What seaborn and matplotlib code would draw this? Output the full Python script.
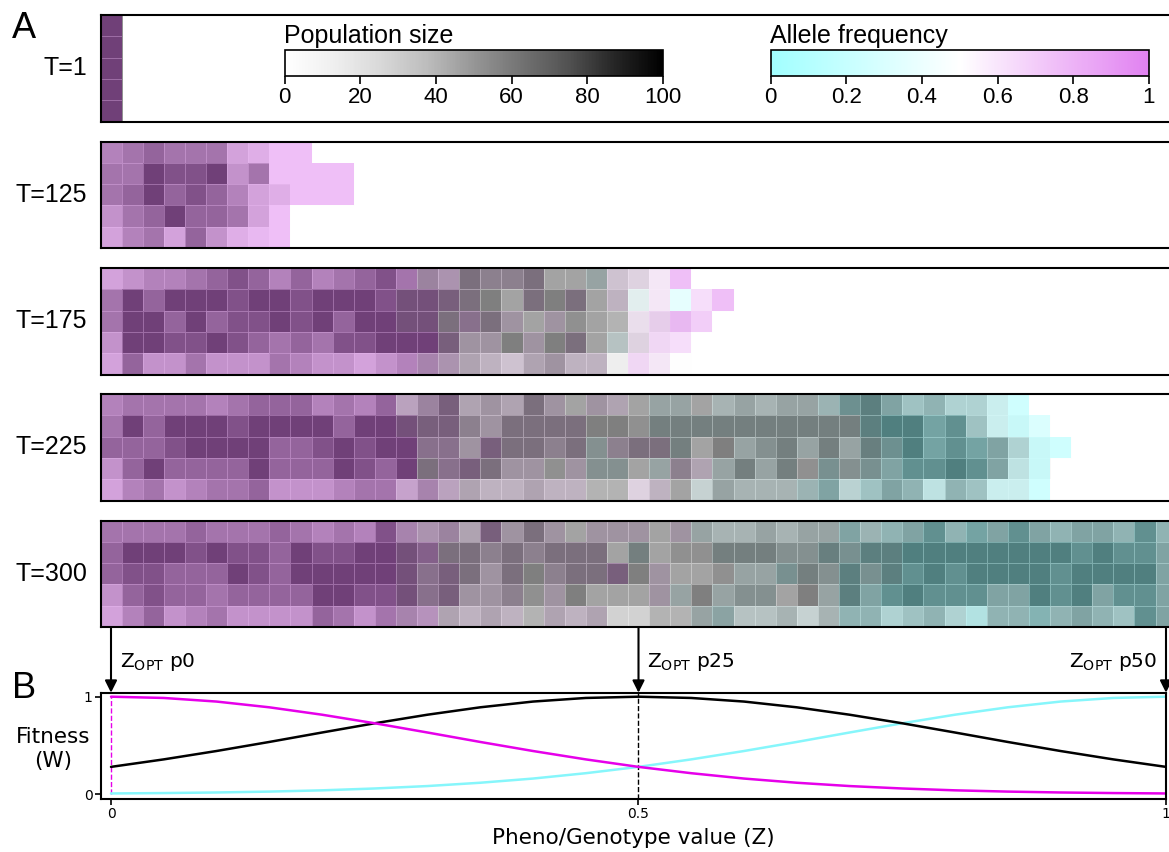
import numpy as np
import matplotlib
matplotlib.use("Agg")
import matplotlib.pyplot as plt
import seaborn as sns
from matplotlib.colors import LinearSegmentedColormap, Normalize
from matplotlib.cm import ScalarMappable

sns.set_theme(style="ticks")
plt.rcParams["font.family"] = ["Liberation Sans", "DejaVu Sans"]
plt.rcParams["mathtext.fontset"] = "dejavusans"

N_BINS = 51          # genotype classes 0..50 along Z
N_ROWS = 5
TIME_LABELS = ["T=1", "T=125", "T=175", "T=225", "T=300"]

# Population size per cell as a level 0-9 (count = 1 + 11 * level).
# Allele frequency per cell as a level 0-8 (frequency = level / 8).
# Each string starts at Z class 0; classes past its end hold no individuals.
POP_T1 = ["9", "9", "9", "9", "9"]
FREQ_T1 = ["8", "8", "8", "8", "8"]

POP_T125 = [
    "56766 63200",
    "66988 94600 00",
    "67978 75320 00",
    "46797 7630",
    "35637 4210",
]
FREQ_T125 = [
    "88888 88888",
    "88888 88888 88",
    "88888 88888 88",
    "88888 8888",
    "88888 8888",
]

POP_T175 = [
    "34556 78757 56786 76988 97774 310",
    "69799 98998 99989 99997 99975 21000",
    "69979 78898 97999 99897 77876 2210",
    "49988 98767 68899 99779 79975 310",
    "37446 44465 44345 66654 67552 110",
]
FREQ_T175 = [
    "88888 88888 88888 66555 54435 558",
    "88888 88888 88887 76544 54545 35268",
    "88888 88888 88887 75655 45444 5687",
    "88888 88888 88888 86554 54543 566",
    "88888 88888 88888 76555 55554 654",
]

POP_T225 = [
    "56666 56777 56575 79676 97776 77776 76776 89756 4420",
    "69799 98999 97999 99879 99999 89999 99999 99997 85210",
    "77789 99977 89899 88799 98988 99979 78979 79897 87741 0",
    "47977 77977 79879 98997 78788 77867 97988 88788 98731",
    "35645 66744 45664 65655 65566 35747 66667 45763 65220",
]
FREQ_T225 = [
    "88888 88888 88886 66555 55455 43343 33332 11111 1110",
    "88888 88888 88887 66555 55544 43333 33333 31000 01101",
    "88888 88888 88888 66565 55535 55344 33333 32100 00110 0",
    "88888 88888 88888 56655 54533 43553 33342 32100 00110",
    "88888 88888 88887 76555 55544 55433 33321 21111 11110",
]

POP_T300 = [
    "66667 66676 56586 67697 97777 77776 67677 76678 67787 67768 6",
    "79998 98879 88999 89989 89997 97889 99889 89999 99999 98988 7",
    "78877 79879 99999 89979 98999 97778 77898 98989 89999 89999 7",
    "47877 67777 99889 89778 87977 77797 88797 97898 88779 89788 7",
    "35745 64444 76466 56565 66564 46677 55646 66456 43666 67658 7",
]
FREQ_T300 = [
    "88888 88888 88887 66565 55455 54533 33333 12110 10101 11110 1",
    "88888 88888 88887 75555 55554 34443 33332 21100 00000 00000 1",
    "88888 88888 88887 66555 45556 45444 33233 12100 00000 00000 1",
    "88888 88888 88887 66555 45444 45343 33443 11000 00110 00100 1",
    "88888 88888 88887 75555 45554 44432 33333 11111 10110 11110 1",
]

POP_BY_TIME = [POP_T1, POP_T125, POP_T175, POP_T225, POP_T300]
FREQ_BY_TIME = [FREQ_T1, FREQ_T125, FREQ_T175, FREQ_T225, FREQ_T300]

# Fitness W along Z for the three optima
Z_GRID = [0.00, 0.05, 0.10, 0.15, 0.20, 0.25, 0.30, 0.35, 0.40, 0.45, 0.50,
          0.55, 0.60, 0.65, 0.70, 0.75, 0.80, 0.85, 0.90, 0.95, 1.00]
FIT_P0 = [1.000, 0.987, 0.950, 0.891, 0.815, 0.727, 0.632, 0.535, 0.442, 0.356, 0.279,
          0.214, 0.159, 0.116, 0.082, 0.057, 0.038, 0.025, 0.016, 0.010, 0.006]
FIT_P25 = [0.279, 0.356, 0.442, 0.535, 0.632, 0.727, 0.815, 0.891, 0.950, 0.987, 1.000,
           0.987, 0.950, 0.891, 0.815, 0.727, 0.632, 0.535, 0.442, 0.356, 0.279]
FIT_P50 = [0.006, 0.010, 0.016, 0.025, 0.038, 0.057, 0.082, 0.116, 0.159, 0.214, 0.279,
           0.356, 0.442, 0.535, 0.632, 0.727, 0.815, 0.891, 0.950, 0.987, 1.000]
OPTIMA = [0.0, 0.5, 1.0]
OPT_LABELS = ["p0", "p25", "p50"]

POP_TICKS = [0, 20, 40, 60, 80, 100]
FREQ_TICKS = [0, 0.2, 0.4, 0.6, 0.8, 1]
FREQ_TICK_LABELS = ["0", "0.2", "0.4", "0.6", "0.8", "1"]

ALLELE_CMAP = LinearSegmentedColormap.from_list("allele", ["#a1ffff", "#ffffff", "#e181f1"])
MAGENTA = "#e600ea"
CYAN = "#86f6fb"


def to_grid(rows, scale, offset=0.0):
    arr = np.full((N_ROWS, N_BINS), np.nan)
    for i, row in enumerate(rows):
        vals = np.array([int(c) for c in row.replace(" ", "")], dtype=float)
        arr[i, :len(vals)] = vals * scale + offset
    return arr


W, H = 1169, 852
fig = plt.figure(figsize=(W / 100, H / 100), dpi=100)


def rect(x0, y0, x1, y1):
    return [x0 / W, 1 - y1 / H, (x1 - x0) / W, (y1 - y0) / H]


# ---- panel A: population heat maps --------------------------------------
PANEL_TOPS = [15, 141.5, 268, 394, 520.5]
PANEL_H = 106.5
HM_LEFT = 100.5
HM_RIGHT = HM_LEFT + N_BINS * 21.1

for label, prow, frow, top in zip(TIME_LABELS, POP_BY_TIME, FREQ_BY_TIME, PANEL_TOPS):
    ax = fig.add_axes(rect(HM_LEFT, top, HM_RIGHT, top + PANEL_H))
    pop = to_grid(prow, 11, 1)
    freq = to_grid(frow, 1 / 8)
    empty = np.isnan(pop)
    sns.heatmap(pop, ax=ax, mask=empty, cmap="Greys", vmin=0, vmax=100, cbar=False,
                xticklabels=False, yticklabels=False,
                linewidths=0.6, linecolor=(1, 1, 1, 0.35))
    sns.heatmap(freq, ax=ax, mask=empty, cmap=ALLELE_CMAP, vmin=0, vmax=1, alpha=0.5,
                cbar=False, xticklabels=False, yticklabels=False)
    for s in ax.spines.values():
        s.set_visible(True)
        s.set_color("black")
        s.set_linewidth(1.5)
    ax.tick_params(left=False, bottom=False)
    fig.text(87 / W, 1 - (top + PANEL_H / 2) / H, label, ha="right", va="center",
             fontsize=18, color="black")

fig.text(12 / W, 1 - 37.5 / H, "A", fontsize=26, color="black", va="baseline")

# colour bars
cax1 = fig.add_axes(rect(284.5, 49.5, 663, 76))
cb1 = fig.colorbar(ScalarMappable(Normalize(0, 100), "Greys"), cax=cax1,
                   orientation="horizontal", ticks=POP_TICKS)
cax2 = fig.add_axes(rect(770.5, 49.5, 1149, 76))
cb2 = fig.colorbar(ScalarMappable(Normalize(0, 1), ALLELE_CMAP), cax=cax2,
                   orientation="horizontal", ticks=FREQ_TICKS)
cb2.set_ticklabels(FREQ_TICK_LABELS)
for cb, cax in [(cb1, cax1), (cb2, cax2)]:
    cb.outline.set_linewidth(1.2)
    cb.outline.set_edgecolor("black")
    cax.tick_params(labelsize=16, length=6, width=1.2, direction="out", pad=2,
                    colors="black")
fig.text(284 / W, 1 - 43 / H, "Population size", fontsize=18, va="baseline", color="black")
fig.text(770 / W, 1 - 43 / H, "Allele frequency", fontsize=18, va="baseline", color="black")

# ---- panel B: fitness functions -----------------------------------------
B_TOP, B_BOT = 692.7, 799
axb = fig.add_axes(rect(101, B_TOP, 1166, B_BOT))
axb.set_xlim(-10 / 1055, 1.0)
axb.set_ylim(-0.051, 1.041)

axb.plot([0, 0], [0, 1], ls="--", lw=1.0, color=MAGENTA)
axb.axvline(0.5, ls="--", lw=1.0, color="black")
axb.plot([1, 1], [0, 1], ls="--", lw=1.0, color=CYAN)
sns.lineplot(x=Z_GRID, y=FIT_P50, ax=axb, color=CYAN, linewidth=1.8)
sns.lineplot(x=Z_GRID, y=FIT_P25, ax=axb, color="black", linewidth=1.8)
sns.lineplot(x=Z_GRID, y=FIT_P0, ax=axb, color=MAGENTA, linewidth=1.8)

axb.set_xticks([0, 0.5, 1])
axb.set_xticklabels(["0", "0.5", "1"], family="DejaVu Sans")
axb.set_yticks([0, 1])
axb.set_yticklabels(["0", "1"], family="DejaVu Sans")
axb.tick_params(labelsize=10, length=4, width=1.2, pad=2, colors="black")
for s in axb.spines.values():
    s.set_visible(True)
    s.set_color("black")
    s.set_linewidth(1.5)
axb.set_xlabel("Pheno/Genotype value (Z)", fontsize=15.5, family="DejaVu Sans",
               labelpad=5, color="black")

arrow_start = 1 + (B_TOP - 628) / (B_BOT - B_TOP)
for z in OPTIMA:
    axb.annotate("", xy=(z, 1.0), xycoords=("data", "axes fraction"),
                 xytext=(z, arrow_start), textcoords=("data", "axes fraction"),
                 arrowprops=dict(arrowstyle="-|>", color="black", lw=1.5,
                                 mutation_scale=18, shrinkA=0, shrinkB=0),
                 annotation_clip=False)

zlab = r"Z$_{\mathregular{OPT}}$ "
fig.text(119.5 / W, 1 - 667 / H, zlab + OPT_LABELS[0], fontsize=14.5,
         family="DejaVu Sans", va="baseline", ha="left", color="black")
fig.text(647 / W, 1 - 667 / H, zlab + OPT_LABELS[1], fontsize=14.5,
         family="DejaVu Sans", va="baseline", ha="left", color="black")
fig.text(1157 / W, 1 - 667 / H, zlab + OPT_LABELS[2], fontsize=14.5,
         family="DejaVu Sans", va="baseline", ha="right", color="black")

fig.text(53 / W, 1 - 749 / H, "Fitness\n(W)", fontsize=15.5, family="DejaVu Sans",
         ha="center", va="center", color="black", linespacing=1.2)
fig.text(12 / W, 1 - 698 / H, "B", fontsize=26, color="black", va="baseline")

fig.savefig("out.png", dpi=100)
